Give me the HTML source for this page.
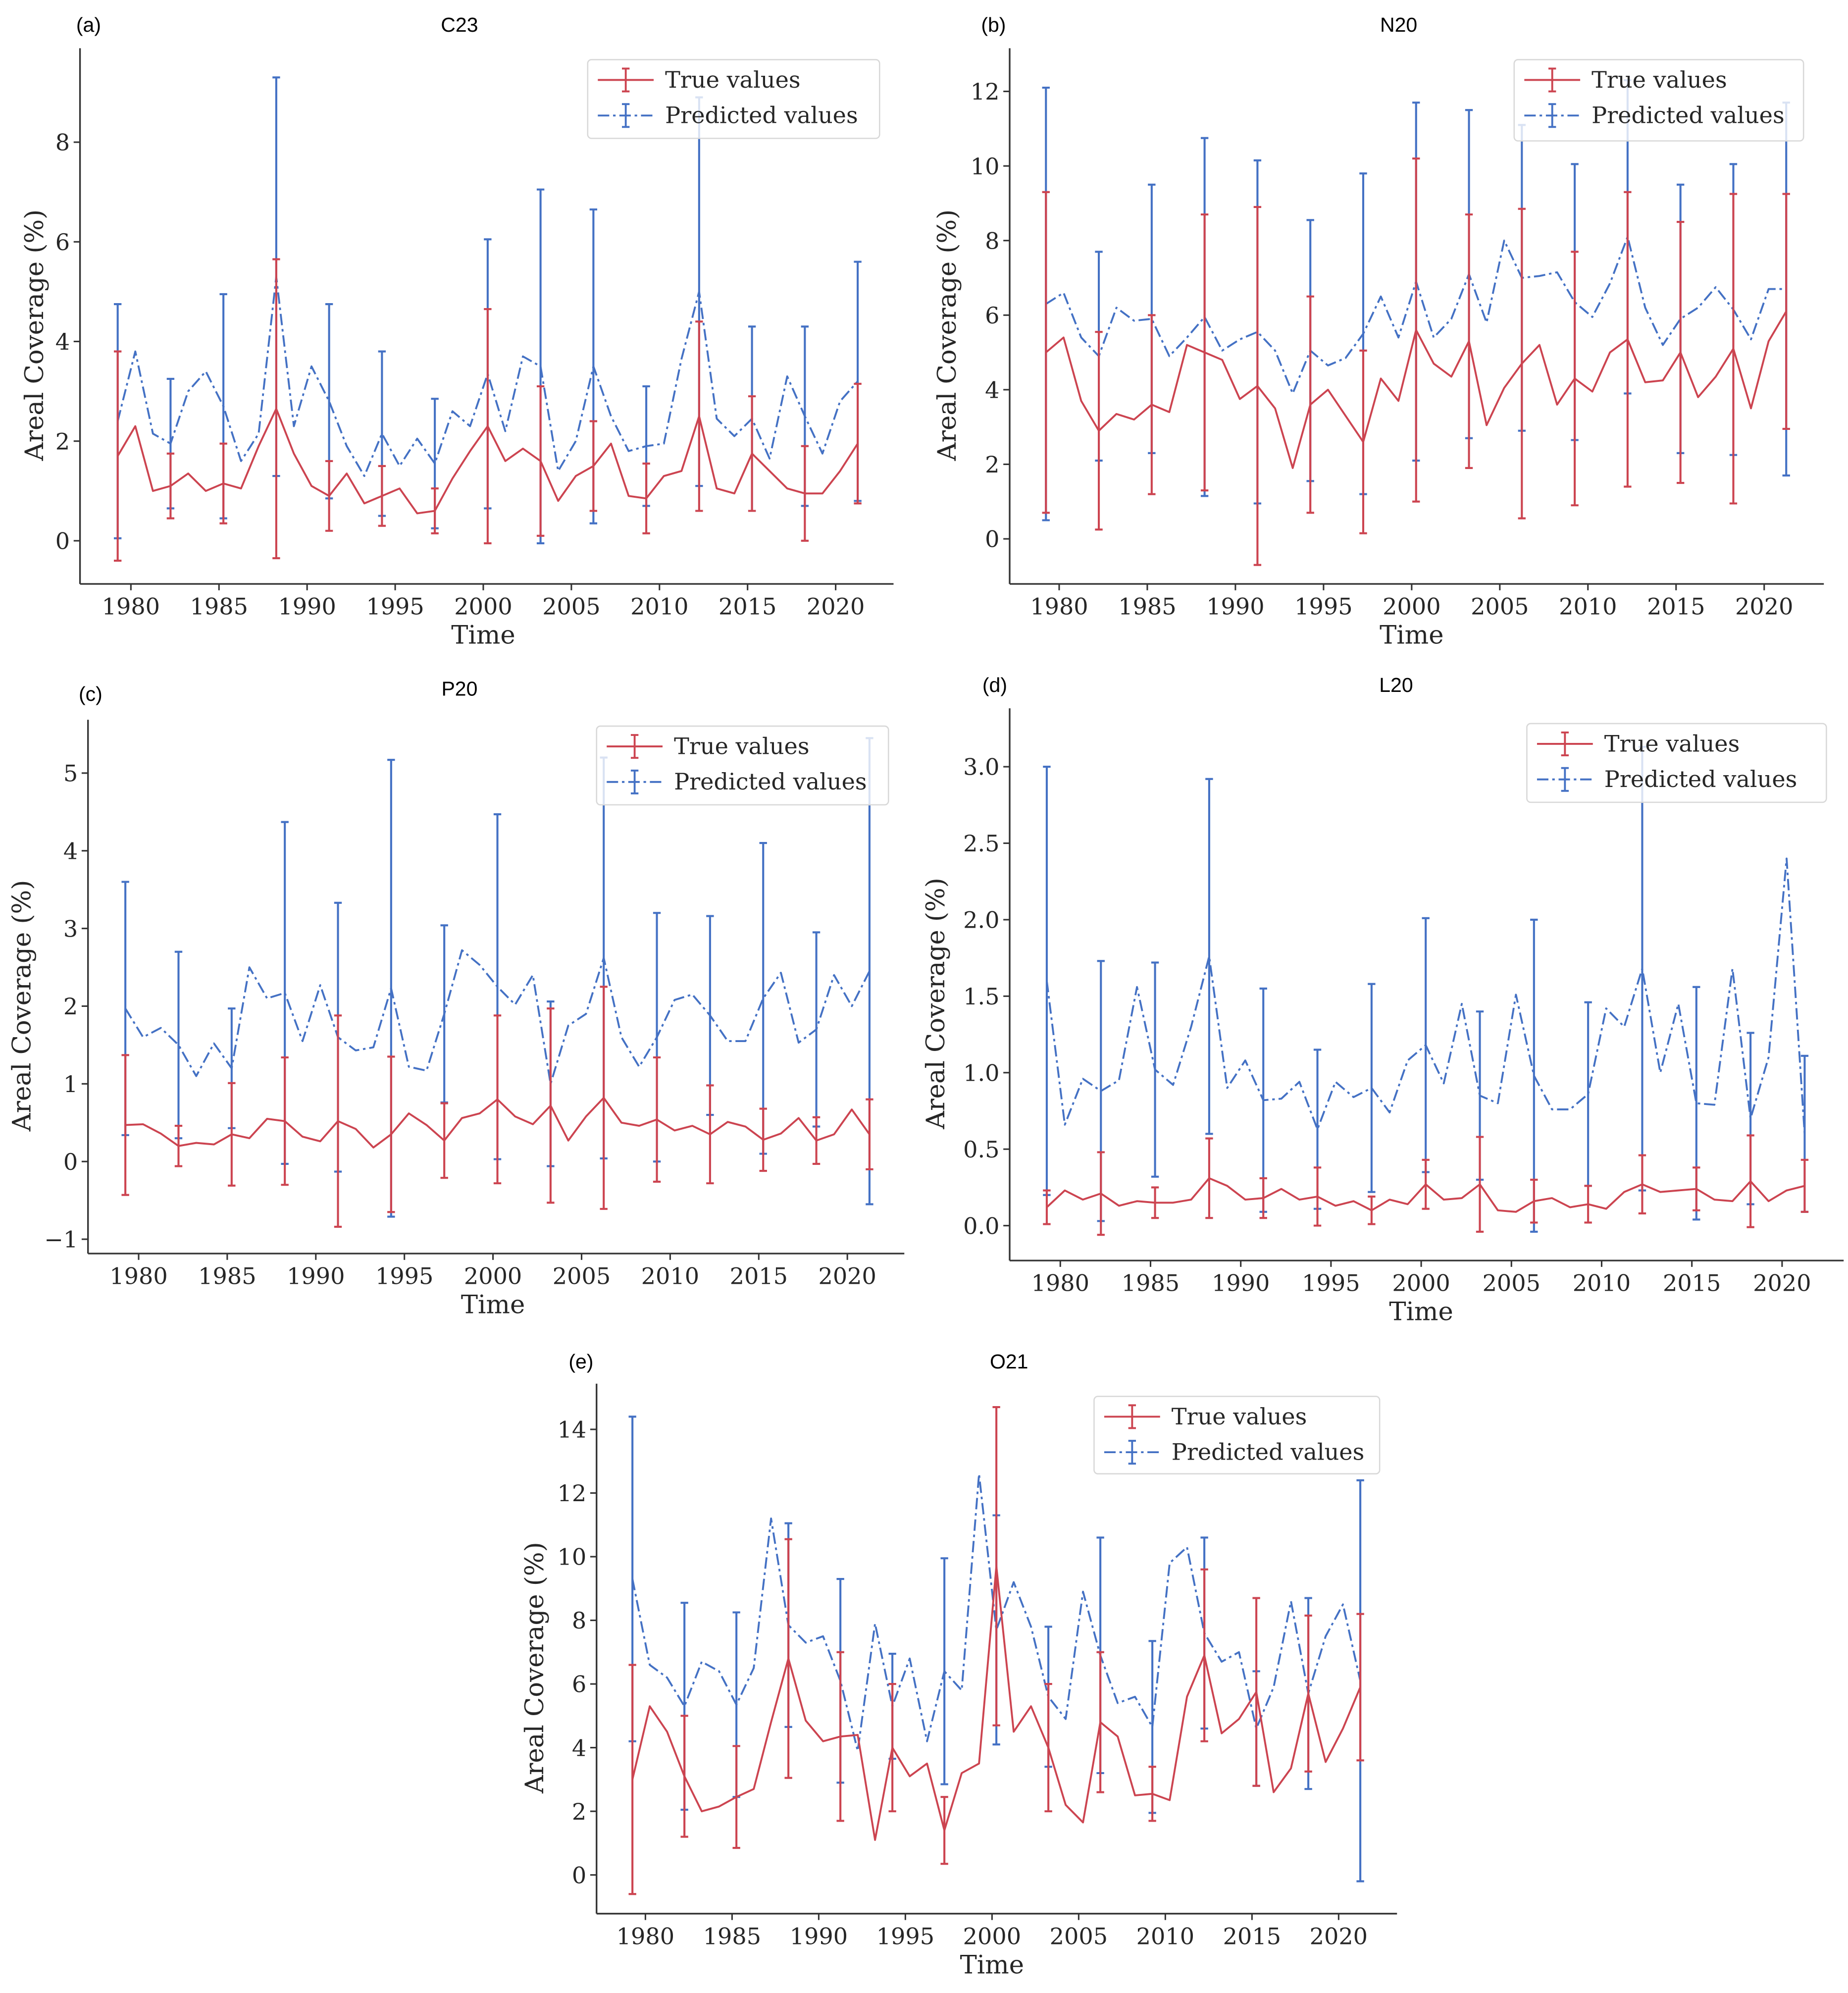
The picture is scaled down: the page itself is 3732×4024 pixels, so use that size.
<!DOCTYPE html>
<html><head><meta charset="utf-8"><style>
html,body{margin:0;padding:0;background:#fff;}
svg{display:block;}
</style></head><body>
<svg id="fig" xmlns="http://www.w3.org/2000/svg" width="3732" height="4024" viewBox="0 0 1456 1570"></svg>
<script>
// Shared category axis
const years = [1979,1980,1981,1982,1983,1984,1985,1986,1987,1988,1989,1990,1991,1992,1993,1994,1995,1996,1997,1998,1999,2000,2001,2002,2003,2004,2005,2006,2007,2008,2009,2010,2011,2012,2013,2014,2015,2016,2017,2018,2019,2020,2021];
const errIdx = [0,3,6,9,12,15,18,21,24,27,30,33,36,39,42];
const xTickLabels = [1980,1985,1990,1995,2000,2005,2010,2015,2020];

// (a) C23
const trueA = [1.7,2.3,1.0,1.1,1.35,1.0,1.15,1.05,1.9,2.65,1.75,1.1,0.9,1.35,0.75,0.9,1.05,0.55,0.6,1.25,1.8,2.3,1.6,1.85,1.6,0.8,1.3,1.5,1.95,0.9,0.85,1.3,1.4,2.5,1.05,0.95,1.75,1.4,1.05,0.95,0.95,1.4,1.95];
const trueErrA = [2.1,0.65,0.8,3.0,0.7,0.6,0.45,2.35,1.5,0.9,0.7,1.9,1.15,0.95,1.2];
const predA = [2.4,3.8,2.15,1.95,3.0,3.4,2.7,1.6,2.15,5.3,2.3,3.5,2.8,1.9,1.3,2.15,1.5,2.05,1.55,2.6,2.3,3.35,2.2,3.7,3.5,1.4,2.0,3.5,2.5,1.8,1.9,1.95,3.65,5.0,2.45,2.1,2.45,1.65,3.3,2.5,1.75,2.8,3.2];
const predErrA = [2.35,1.3,2.25,4.0,1.95,1.65,1.3,2.7,3.55,3.15,1.2,3.9,1.85,1.8,2.4];
const yTicksA = [0,2,4,6,8];

// (b) N20
const trueB = [5.0,5.4,3.7,2.9,3.35,3.2,3.6,3.4,5.2,5.0,4.8,3.75,4.1,3.5,1.9,3.6,4.0,3.3,2.6,4.3,3.7,5.6,4.7,4.35,5.3,3.05,4.05,4.7,5.2,3.6,4.3,3.95,5.0,5.35,4.2,4.25,5.0,3.8,4.35,5.1,3.5,5.3,6.1];
const trueErrB = [4.3,2.65,2.4,3.7,4.8,2.9,2.45,4.6,3.4,4.15,3.4,3.95,3.5,4.15,3.15];
const predB = [6.3,6.6,5.4,4.9,6.2,5.85,5.9,4.9,5.4,5.95,5.05,5.35,5.55,5.05,3.9,5.05,4.65,4.85,5.5,6.5,5.4,6.9,5.4,5.9,7.1,5.8,8.0,7.0,7.05,7.15,6.35,5.95,6.85,8.1,6.2,5.2,5.9,6.2,6.75,6.15,5.35,6.7,6.7];
const predErrB = [5.8,2.8,3.6,4.8,4.6,3.5,4.3,4.8,4.4,4.1,3.7,4.2,3.6,3.9,5.0];
const yTicksB = [0,2,4,6,8,10,12];

// (c) P20
const trueC = [0.47,0.48,0.36,0.2,0.24,0.22,0.35,0.3,0.55,0.52,0.32,0.26,0.52,0.42,0.18,0.35,0.62,0.47,0.27,0.56,0.62,0.8,0.58,0.48,0.72,0.27,0.58,0.82,0.5,0.46,0.54,0.4,0.46,0.35,0.51,0.45,0.28,0.36,0.56,0.27,0.35,0.67,0.35];
const trueErrC = [0.9,0.26,0.66,0.82,1.36,1.0,0.48,1.08,1.25,1.43,0.8,0.63,0.4,0.3,0.45];
const predC = [1.97,1.6,1.72,1.5,1.1,1.52,1.2,2.5,2.1,2.17,1.55,2.27,1.6,1.43,1.47,2.23,1.22,1.17,1.9,2.72,2.53,2.25,2.02,2.4,1.0,1.75,1.9,2.62,1.6,1.22,1.6,2.08,2.15,1.88,1.55,1.55,2.1,2.43,1.53,1.7,2.4,2.0,2.45];
const predErrC = [1.63,1.2,0.77,2.2,1.73,2.94,1.14,2.22,1.06,2.58,1.6,1.28,2.0,1.25,3.0];
const yTicksC = [-1,0,1,2,3,4,5];

// (d) L20
const trueD = [0.12,0.23,0.17,0.21,0.13,0.16,0.15,0.15,0.17,0.31,0.26,0.17,0.18,0.24,0.17,0.19,0.13,0.16,0.1,0.17,0.14,0.27,0.17,0.18,0.27,0.1,0.09,0.16,0.18,0.12,0.14,0.11,0.22,0.27,0.22,0.23,0.24,0.17,0.16,0.29,0.16,0.23,0.26];
const trueErrD = [0.11,0.27,0.1,0.26,0.13,0.19,0.09,0.16,0.31,0.14,0.12,0.19,0.14,0.3,0.17];
const predD = [1.6,0.66,0.96,0.88,0.95,1.56,1.02,0.92,1.3,1.76,0.9,1.08,0.82,0.83,0.94,0.63,0.94,0.84,0.9,0.74,1.08,1.18,0.93,1.45,0.85,0.8,1.51,0.98,0.76,0.76,0.86,1.42,1.3,1.68,1.0,1.45,0.8,0.79,1.68,0.7,1.1,2.4,0.6];
const predErrD = [1.4,0.85,0.7,1.16,0.73,0.52,0.68,0.83,0.55,1.02,0.6,1.45,0.76,0.56,0.51];
const yTicksD = [0,0.5,1.0,1.5,2.0,2.5,3.0];

// (e) O21
const trueE = [3.0,5.3,4.5,3.1,2.0,2.15,2.45,2.7,4.8,6.8,4.85,4.2,4.35,4.4,1.1,4.0,3.1,3.5,1.4,3.2,3.5,9.7,4.5,5.3,4.0,2.2,1.65,4.8,4.35,2.5,2.55,2.35,5.6,6.9,4.45,4.9,5.75,2.6,3.35,5.7,3.55,4.6,5.9];
const trueErrE = [3.6,1.9,1.6,3.75,2.65,2.0,1.05,5.0,2.0,2.2,0.85,2.7,2.95,2.45,2.3];
const predE = [9.3,6.6,6.2,5.3,6.7,6.4,5.35,6.5,11.2,7.85,7.3,7.5,6.1,3.9,7.9,5.3,6.8,4.2,6.4,5.8,12.6,7.7,9.2,7.8,5.6,4.9,8.9,6.9,5.4,5.6,4.65,9.8,10.3,7.6,6.7,7.0,4.6,5.9,8.6,5.7,7.5,8.5,6.1];
const predErrE = [5.1,3.25,2.9,3.2,3.2,1.65,3.55,3.6,2.2,3.7,2.7,3.0,1.8,3.0,6.3];
const yTicksE = [0,2,4,6,8,10,12,14];

const NS = "http://www.w3.org/2000/svg";
const svg = document.getElementById('fig');
const RED = "#cc4450", BLUE = "#4471c4", AX = "#333";
const SERIF = '"DejaVu Serif","Liberation Serif",serif';
const SANS = '"Liberation Sans","DejaVu Sans",sans-serif';

function mk(tag, attrs, parent) {
  const e = document.createElementNS(NS, tag);
  for (const k in attrs) e.setAttribute(k, attrs[k]);
  (parent || svg).appendChild(e);
  return e;
}
function txt(s, attrs, parent) { const t = mk('text', attrs, parent); t.textContent = s; return t; }
function fmt(v, dec) { return v < 0 ? '\u2212' + Math.abs(v).toFixed(dec) : v.toFixed(dec); }

const panels = [
  {id:'a', title:'C23', L:63, R:704, T:38, B:460, x1980:103.1, x2020:658.4, y0px:426, yval:8, yvalpx:112, yT:yTicksA, dec:0,
   tr:trueA, trE:trueErrA, pr:predA, prE:predErrA, lab:[60,25], tit:[362,25], ylx:27, leg:[463,47,230,62]},
  {id:'b', title:'N20', L:795.5, R:1437, T:38, B:460, x1980:834.5, x2020:1390, y0px:424.5, yval:12, yvalpx:72, yT:yTicksB, dec:0,
   tr:trueB, trE:trueErrB, pr:predB, prE:predErrB, lab:[773,25], tit:[1102,25], ylx:746, leg:[1193,47,228,64]},
  {id:'c', title:'P20', L:69.3, R:712.5, T:567, B:987.5, x1980:109.2, x2020:667.6, y0px:915, yval:5, yvalpx:609, yT:yTicksC, dec:0,
   tr:trueC, trE:trueErrC, pr:predC, prE:predErrC, lab:[62,552], tit:[362,548], ylx:17, leg:[470,572,230,62]},
  {id:'d', title:'L20', L:795.5, R:1452.6, T:558, B:993, x1980:835.4, x2020:1404.1, y0px:965.5, yval:3, yvalpx:604, yT:yTicksD, dec:1,
   tr:trueD, trE:trueErrD, pr:predD, prE:predErrD, lab:[774,545], tit:[1100,545], ylx:737, leg:[1203,570,236,62]},
  {id:'e', title:'O21', L:470, R:1100.7, T:1090, B:1507.5, x1980:508.5, x2020:1054.7, y0px:1477, yval:14, yvalpx:1126, yT:yTicksE, dec:0,
   tr:trueE, trE:trueErrE, pr:predE, prE:predErrE, lab:[448,1078], tit:[795,1078], ylx:421, leg:[862,1100,225,61]}
];

panels.forEach(p => {
  const g = mk('g', {});
  
  
  const xt = (yr) => p.x1980 + (yr - 1980) * (p.x2020 - p.x1980) / 40;
  const xs = (yr) => xt(yr + 0.25);
  const ys = (v) => p.y0px - v * (p.y0px - p.yvalpx) / p.yval;

  const lab = txt('(' + p.id + ')', {x:p.lab[0], y:p.lab[1], 'font-family':SANS, 'font-size':16, fill:'#000'}, g);
  
  
  const tt = txt(p.title, {x:p.tit[0], y:p.tit[1], 'font-family':SANS, 'font-size':16, fill:'#000', 'text-anchor':'middle'}, g);
  
  

  const ys1 = mk('line', {x1:p.L, y1:p.T, x2:p.L, y2:p.B, stroke:AX, 'stroke-width':1.3}, g);
  
  
  const xs1 = mk('line', {x1:p.L, y1:p.B, x2:p.R, y2:p.B, stroke:AX, 'stroke-width':1.3}, g);
  
  

  p.yT.forEach(v => {
    const y = ys(v);
    mk('line', {x1:p.L - 5, y1:y, x2:p.L, y2:y, stroke:AX, 'stroke-width':1.2}, g);
    const t = txt(fmt(v, p.dec), {x:p.L - 8, y:y + 6.5, 'font-family':SERIF, 'font-size':18, fill:'#262626', 'text-anchor':'end'}, g);
    
    
  });
  xTickLabels.forEach(yr => {
    const x = xt(yr);
    mk('line', {x1:x, y1:p.B, x2:x, y2:p.B + 5, stroke:AX, 'stroke-width':1.2}, g);
    const t = txt(String(yr), {x:x, y:p.B + 24, 'font-family':SERIF, 'font-size':18, fill:'#262626', 'text-anchor':'middle'}, g);
    
    
  });
  const xl = txt('Time', {x:(xt(1980) + xt(2020)) / 2, y:p.B + 47, 'font-family':SERIF, 'font-size':20, fill:'#262626', 'text-anchor':'middle'}, g);
  
  
  const ymid = (p.T + p.B) / 2 + 15;
  const yl = txt('Areal Coverage (%)', {x:0, y:0, 'font-family':SERIF, 'font-size':20, fill:'#262626', 'text-anchor':'middle', transform:'translate(' + (p.ylx + 7) + ' ' + ymid + ') rotate(-90)'}, g);
  
  

  function series(vals, errs, color, dash, name) {
    const sg = mk('g', {}, g);
    
    
    const pts = vals.map((v, i) => xs(years[i]).toFixed(2) + ',' + ys(v).toFixed(2)).join(' ');
    const pl = mk('polyline', {points:pts, fill:'none', stroke:color, 'stroke-width':1.5, 'stroke-dasharray':dash || 'none', 'stroke-linejoin':'round'}, sg);
    
    
    errIdx.forEach((idx, k) => {
      const x = xs(years[idx]);
      const yt = ys(vals[idx] + errs[k]), yb = ys(vals[idx] - errs[k]);
      const eb = mk('path', {d:'M' + x + ' ' + yt + 'V' + yb + 'M' + (x - 3) + ' ' + yt + 'h6M' + (x - 3) + ' ' + yb + 'h6', stroke:color, 'stroke-width':1.6, fill:'none'}, sg);
      
      
    });
  }
  series(p.pr, p.prE, BLUE, '9,3,2,3', 'predicted');
  series(p.tr, p.trE, RED, null, 'true');

  const [lx, ly, lw, lh] = p.leg;
  const lg = mk('g', {}, g);
  
  
  mk('rect', {x:lx, y:ly, width:lw, height:lh, rx:3, fill:'#fff', 'fill-opacity':0.8, stroke:'#d8d8d8', 'stroke-width':1}, lg);
  [['True values', RED, null, 16], ['Predicted values', BLUE, '9,3,2,3', 44]].forEach(([s, c, d, dy]) => {
    const eg = mk('g', {}, lg);
    
    
    const cy = ly + dy;
    mk('line', {x1:lx + 8, y1:cy, x2:lx + 52, y2:cy, stroke:c, 'stroke-width':1.5, 'stroke-dasharray':d || 'none'}, eg);
    mk('path', {d:'M' + (lx + 30) + ' ' + (cy - 9) + 'V' + (cy + 9) + 'M' + (lx + 27) + ' ' + (cy - 9) + 'h6M' + (lx + 27) + ' ' + (cy + 9) + 'h6', stroke:c, 'stroke-width':1.5, fill:'none'}, eg);
    txt(s, {x:lx + 61, y:cy + 6, 'font-family':SERIF, 'font-size':18, fill:'#262626'}, eg);
  });
});
</script>
</body></html>
